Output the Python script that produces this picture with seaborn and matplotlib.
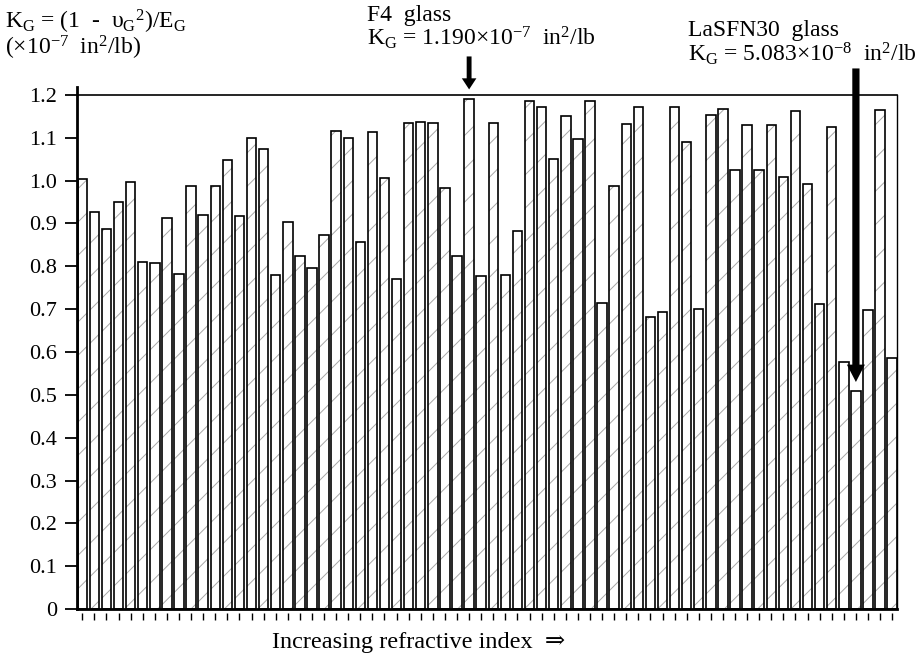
import numpy as np
import pandas as pd
import matplotlib
matplotlib.use("Agg")
import matplotlib.pyplot as plt
import seaborn as sns

# ---------------- data ----------------
kg_values = [1.005, 0.926, 0.888, 0.951, 0.996, 0.811, 0.808, 0.912, 0.783, 0.987,
             0.920, 0.987, 1.049, 0.918, 1.099, 1.073,
             0.780, 0.903, 0.825, 0.797, 0.873, 1.117, 1.100, 0.857, 1.114, 1.007,
             0.770, 1.135, 1.137, 1.135, 0.984, 0.825, 1.190,
             0.778, 1.135, 0.780, 0.883, 1.187, 1.172, 1.051, 1.152, 1.097, 1.187,
             0.715, 0.988, 1.133, 1.173, 0.681, 0.693,
             1.173, 1.091, 0.700, 1.153, 1.168, 1.026, 1.129, 1.026, 1.129, 1.009,
             1.163, 0.993, 0.713, 1.126, 0.576, 0.508, 0.697, 1.165, 0.586]
glasses = [f"g{i + 1:02d}" for i in range(len(kg_values))]
glasses[32] = "F4"
glasses[64] = "LaSFN30"
ytick_values = [0, 0.1, 0.2, 0.3, 0.4, 0.5, 0.6, 0.7, 0.8, 0.9, 1.0, 1.1, 1.2]
ytick_labels = ["0", "0.1", "0.2", "0.3", "0.4", "0.5", "0.6", "0.7", "0.8",
                "0.9", "1.0", "1.1", "1.2"]

ylabel_1 = r"K$_{\rm G}$ = (1  -  υ$_{\rm G}$$^{2}$)/E$_{\rm G}$"
ylabel_2 = r"(×10$^{-7}$  in$^{2}$/lb)"
f4_1 = "F4  glass"
f4_2 = r"K$_{\rm G}$ = 1.190×10$^{-7}$  in$^{2}$/lb"
la_1 = "LaSFN30  glass"
la_2 = r"K$_{\rm G}$ = 5.083×10$^{-8}$  in$^{2}$/lb"
xlabel = "Increasing refractive index  ⇒"

df = pd.DataFrame({"glass": glasses, "KG": kg_values})

# ---------------- style ----------------
sns.set_theme(style="white")
plt.rcParams["font.family"] = ["Liberation Serif", "DejaVu Serif", "DejaVu Sans"]
plt.rcParams["mathtext.fontset"] = "custom"
plt.rcParams["mathtext.rm"] = "Liberation Serif"
plt.rcParams["mathtext.it"] = "Liberation Serif:italic"
plt.rcParams["mathtext.bf"] = "Liberation Serif:bold"
plt.rcParams["mathtext.default"] = "regular"
plt.rcParams["hatch.linewidth"] = 0.7

W, H = 918, 661
FS = 16
FS_T = 17
fig = plt.figure(figsize=(W / 100, H / 100), dpi=100)
fig.patch.set_facecolor("white")
ax = fig.add_axes([77 / W, 1 - 609 / H, (897 - 77) / W, (609 - 95) / H])

BW = 0.78
# hatched fill layer
n0 = len(ax.patches)
sns.barplot(data=df, x="glass", y="KG", color="white", width=BW,
            errorbar=None, saturation=1, ax=ax)
for p in ax.patches[n0:]:
    p.set_facecolor("white")
    p.set_edgecolor("#a8a8a8")
    p.set_hatch("/")
    p.set_linewidth(0)
# outline layer
n1 = len(ax.patches)
sns.barplot(data=df, x="glass", y="KG", color="black", width=BW, fill=False,
            errorbar=None, saturation=1, ax=ax)
for p in ax.patches[n1:]:
    p.set_facecolor("none")
    p.set_edgecolor("black")
    p.set_linewidth(1.2)

n = len(kg_values)
ax.set_xlim(-BW / 2 - 0.05, n - 1 + BW / 2 + 0.01)
ax.set_ylim(0, 1.2)
ax.set_yticks(ytick_values)
ax.set_yticklabels(ytick_labels)
ax.set_xlabel("")
ax.set_ylabel("")
ax.tick_params(axis="y", direction="out", length=8.5, width=1.3, labelsize=FS,
               pad=6, colors="black", left=True)
ax.tick_params(axis="x", length=0, labelbottom=False)

for side in ["left", "bottom", "top", "right"]:
    ax.spines[side].set_visible(True)
    ax.spines[side].set_color("black")
ax.spines["left"].set_linewidth(2.0)
ax.spines["bottom"].set_linewidth(2.0)
ax.spines["top"].set_linewidth(1.2)
ax.spines["right"].set_linewidth(1.0)
ax.spines["left"].set_bounds(0, 1.218)

# detached x ticks below the baseline
sec = ax.secondary_xaxis(-0.007)
sec.set_xticks(np.arange(n))
sec.set_xticklabels([])
sec.tick_params(axis="x", direction="out", length=5, width=1.0, colors="black")
for s in sec.spines.values():
    s.set_visible(False)

# arrows
i_f4 = glasses.index("F4")
i_la = glasses.index("LaSFN30")
ax.annotate("", xy=(i_f4, 1.213), xytext=(i_f4, 1.29),
            arrowprops=dict(arrowstyle="simple,head_length=0.8,head_width=1.05,tail_width=0.35",
                            mutation_scale=10, color="black", lw=0,
                            shrinkA=0, shrinkB=0),
            annotation_clip=False)
ax.annotate("", xy=(i_la, kg_values[i_la] + 0.022), xytext=(i_la, 1.262),
            arrowprops=dict(arrowstyle="simple,head_length=1.25,head_width=1.3,tail_width=0.52",
                            mutation_scale=10, color="black", lw=0,
                            shrinkA=0, shrinkB=0),
            annotation_clip=False)

def ftext(x, y, s, fs=FS_T, **kw):
    fig.text(x / W, 1 - y / H, s, ha="left", va="baseline", fontsize=fs,
             color="black", **kw)

ftext(5, 29, ylabel_1)
ftext(5, 55, ylabel_2)
ftext(367, 21, f4_1)
ftext(367, 45, f4_2)
ftext(688, 36, la_1)
ftext(688, 61, la_2)
ftext(272, 648, xlabel, fs=17.5)

fig.savefig("out.png", dpi=100, facecolor="white")
